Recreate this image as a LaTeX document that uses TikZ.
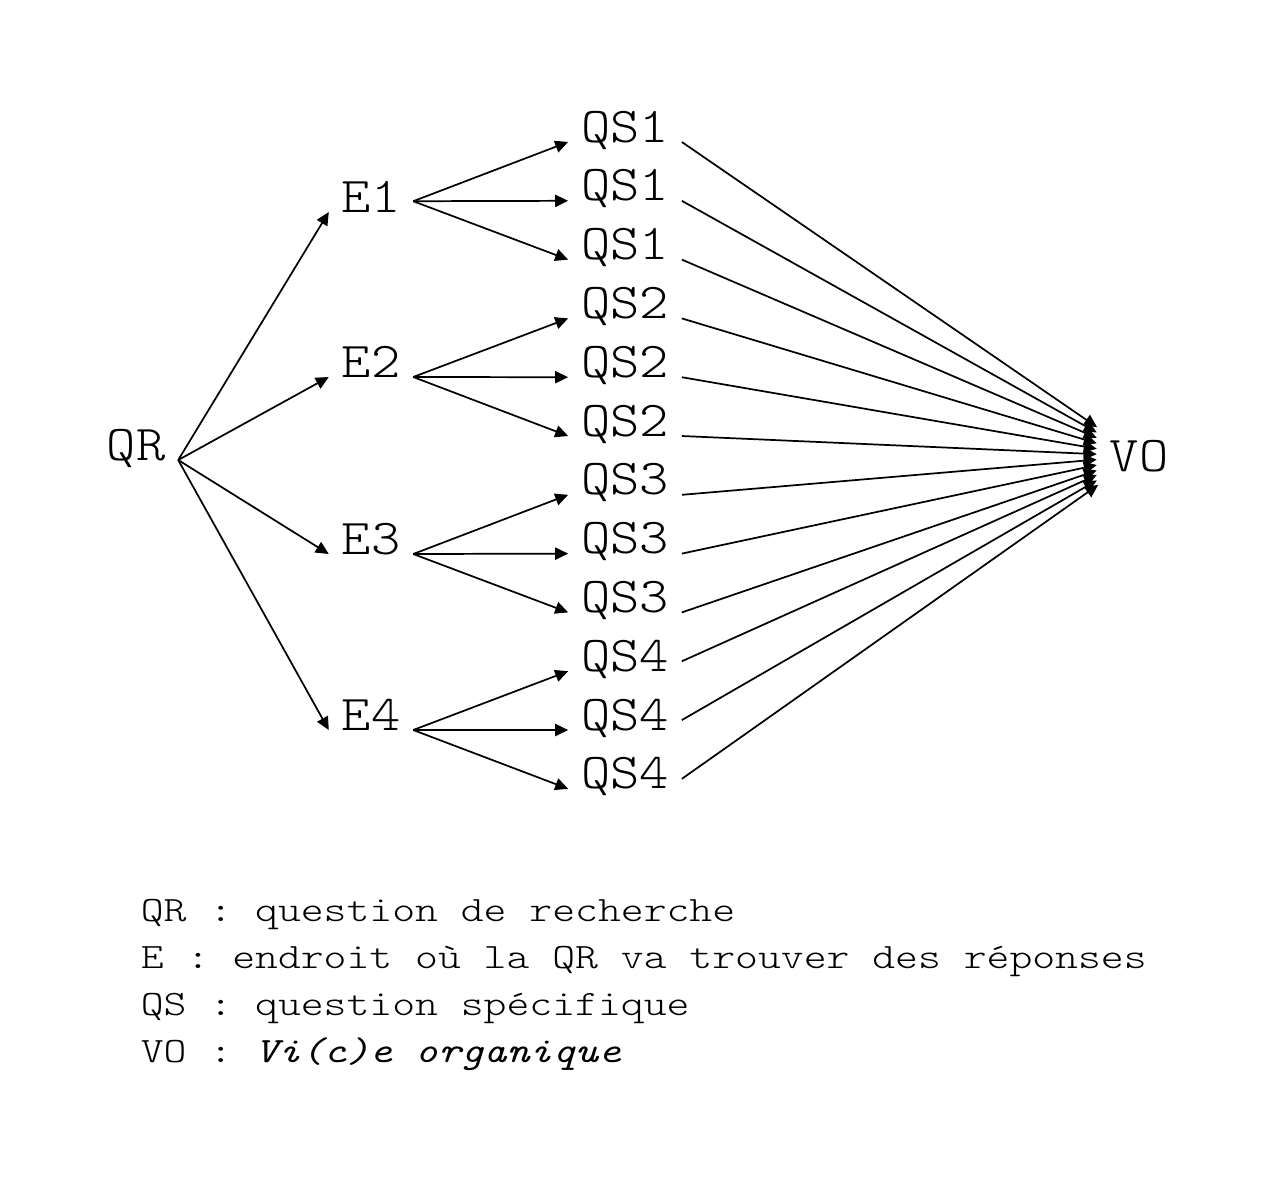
\documentclass[tikz,border=0pt]{standalone}
\usepackage{fontspec}
\usepackage{graphicx}
\newfontfamily\lightmono{lmmonolt10-regular.otf}
\usetikzlibrary{arrows.meta}
\newcommand{\sq}[1]{\scalebox{1}[0.9]{#1}}
\newcommand{\sqleg}[1]{\scalebox{1}[0.82]{#1}}

\begin{document}
\begin{tikzpicture}[x=0.2315pt,y=-0.2315pt,>={Triangle[length=3pt,width=2.8pt]},
    lbl/.style={font=\lightmono\fontsize{12.9}{15}\selectfont,inner sep=2.8pt},
    leg/.style={font=\lightmono\fontsize{10.08}{12}\selectfont,inner sep=0pt,anchor=base west}]
  \useasboundingbox (0,0) rectangle (1264,1181);
  \node[lbl,anchor=base] (qr) at (136,460) {\sq{QR}};
  \node[lbl] (vo) at (1139,456) {\sq{VO}};
  % E1 is set a little lower than its fork
  \foreach \i/\y/\dy in {1/212/2.5,2/377/0,3/554/0,4/730/0} {
    \node[lbl,anchor=base] (e\i) at (371,\y) {\sq{E\i}};
    \draw[->] (qr.base east) -- (e\i.base west);
    \foreach \j in {1,2,3} {
      \pgfmathsetmacro\yy{142+58.8*(3*(\i-1)+\j-1)}
      \node[lbl,anchor=base] (qs\i\j) at (625,\yy) {\sq{QS\i}};
      \draw[->] ([yshift=\dy pt]e\i.base east) -- (qs\i\j.base west);
    }
  }
  \foreach \i/\dz in {1/0,2/0,3/0,4/2.3}
    \foreach \j in {1,2,3}
      \draw[->] ([yshift=\dz pt]qs\i\j.base east) -- (vo);
  % legend
  \foreach \t [count=\n from 0] in {QR : question de recherche,
      E : endroit où la QR va trouver des réponses,
      QS : question spécifique,
      VO : {\ttfamily\itshape Vi(c)e organique}}
    \node[leg] (leg\n) at (140,921+47.3*\n) {\sqleg{\t}};
\end{tikzpicture}
\end{document}
